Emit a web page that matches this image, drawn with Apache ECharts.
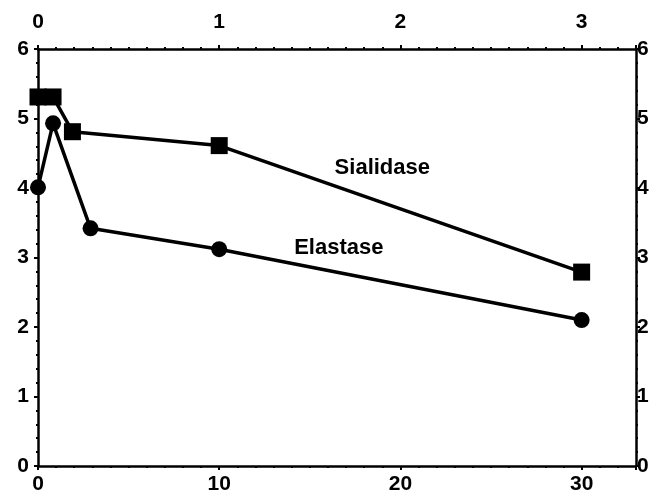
<!DOCTYPE html>
<html>
<head>
<meta charset="utf-8">
<script src="https://cdn.jsdelivr.net/npm/echarts@6/dist/echarts.min.js"></script>
<style>
	html, body { margin: 0; padding: 0; background: #fff; }
	#chart { width: 655px; height: 495px; }
</style>
</head>
<body>
<div id="chart"></div>
<script>
	// data
	var sialX = [0, 0.83, 1.9, 10, 30];
	var sialY = [5.31, 5.31, 4.81, 4.61, 2.79];
	var elasX = [0, 0.83, 2.9, 10, 30];
	var elasY = [4.01, 4.93, 3.42, 3.12, 2.1];
	var labelNames = ['Sialidase', 'Elastase'];
	var labelPos = [[19, 4.29], [16.6, 3.14]];

	function pairs(xs, ys) {
		var out = [];
		for (var i = 0; i < xs.length; i++) {
			out.push([xs[i], ys[i]]);
		}
		return out;
	}

	var font = 'Liberation Sans';
	var axisLine = { show: true, onZero: false, lineStyle: { color: '#000', width: 2.5 } };
	var axisTick = { show: true, inside: false, length: 4, lineStyle: { color: '#000', width: 2 } };
	var minorTick = function (n) {
		return { show: true, splitNumber: n, length: 2, lineStyle: { color: '#000', width: 2 } };
	};
	var lbl = function (margin) {
		return { color: '#000', fontFamily: font, fontSize: 21, fontWeight: 'bold', margin: margin, showMaxLabel: false };
	};

	var chart = echarts.init(document.getElementById('chart'));
	chart.setOption({
		animation: false,
		grid: { left: 38, top: 49, right: 19, bottom: 29 },
		xAxis: [{
			type: 'value', position: 'bottom', min: 0, max: 33, interval: 10,
			axisLine: axisLine, axisTick: axisTick, minorTick: minorTick(10),
			axisLabel: lbl(8), splitLine: { show: false }
		}, {
			type: 'value', position: 'top', min: 0, max: 3.3, interval: 1,
			axisLine: axisLine, axisTick: axisTick, minorTick: minorTick(10),
			axisLabel: lbl(16), splitLine: { show: false }
		}],
		yAxis: [{
			type: 'value', position: 'left', min: 0, max: 6, interval: 1,
			axisLine: axisLine, axisTick: axisTick, minorTick: minorTick(5),
			axisLabel: Object.assign(lbl(9), { showMaxLabel: true }), splitLine: { show: false }
		}, {
			type: 'value', position: 'right', min: 0, max: 6, interval: 1,
			axisLine: axisLine, axisTick: axisTick, minorTick: minorTick(5),
			axisLabel: Object.assign(lbl(1), { showMaxLabel: true }), splitLine: { show: false }
		}],
		series: [{
			name: 'Sialidase',
			type: 'line',
			data: pairs(sialX, sialY),
			symbol: 'rect',
			symbolSize: 17,
			itemStyle: { color: '#000' },
			lineStyle: { color: '#000', width: 3.5 },
			z: 3
		}, {
			name: 'Elastase',
			type: 'line',
			data: pairs(elasX, elasY),
			symbol: 'circle',
			symbolSize: 16,
			itemStyle: { color: '#000' },
			lineStyle: { color: '#000', width: 3.5 },
			z: 3
		}, {
			type: 'scatter',
			symbolSize: 0,
			data: labelPos.map(function (p, i) { return { name: labelNames[i], value: p }; }),
			itemStyle: { opacity: 1 },
			label: {
				show: true, position: 'inside', formatter: '{b}',
				color: '#000', fontFamily: font, fontSize: 22, fontWeight: 'bold', opacity: 1
			},
			silent: true
		}]
	});
</script>
</body>
</html>
